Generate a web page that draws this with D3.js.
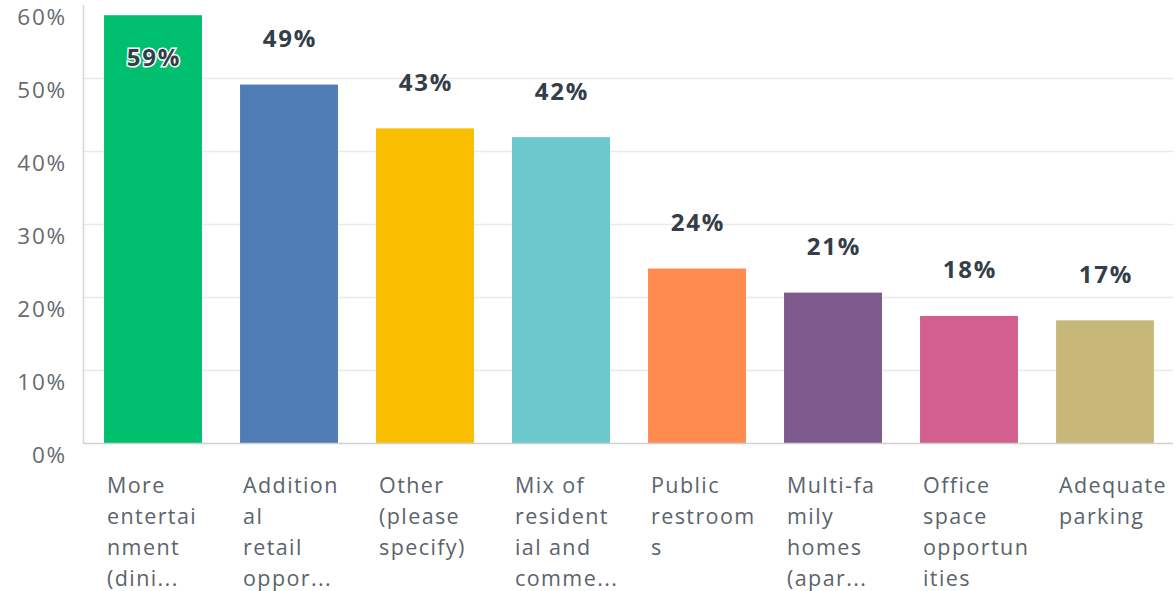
<!DOCTYPE html>
<html>
<head>
<meta charset="utf-8">
<script src="https://cdn.jsdelivr.net/npm/d3@7"></script>
<style>
  html, body { margin: 0; padding: 0; background: #fff; }
  svg { display: block; font-family: "Open Sans", "Noto Sans", sans-serif; }
</style>
</head>
<body>
<svg id="chart" width="1176" height="591"></svg>
<script>
const categories = [
  ["More", "entertai", "nment", "(dini..."],
  ["Addition", "al", "retail", "oppor..."],
  ["Other", "(please", "specify)"],
  ["Mix of", "resident", "ial and", "comme..."],
  ["Public", "restroom", "s"],
  ["Multi-fa", "mily", "homes", "(apar..."],
  ["Office", "space", "opportun", "ities"],
  ["Adequate", "parking"]
];
const values = [58.6, 49.1, 43.1, 41.9, 23.9, 20.6, 17.4, 16.8];
const valueLabels = ["59%", "49%", "43%", "42%", "24%", "21%", "18%", "17%"];
const colors = ["#00bf6f", "#507cb6", "#f9be00", "#6bc8cd", "#ff8b4f", "#7f5a8f", "#d25f90", "#c7b879"];
const yTicks = [0, 10, 20, 30, 40, 50, 60];

(function () {
const svg = d3.select("#chart");
const mLeft = 83, mRight = 1173, mTop = 5, mBottom = 443;

const x = d3.scaleBand()
  .domain(d3.range(values.length))
  .range([mLeft + 2, mRight])
  .paddingInner(0.28)
  .paddingOuter(0.14);

const y = d3.scaleLinear().domain([0, 60]).range([mBottom, mTop]);

// gridlines
svg.append("g").selectAll("line")
  .data(yTicks.filter(t => t > 0 && t < 60))
  .join("line")
  .attr("x1", mLeft).attr("x2", mRight)
  .attr("y1", d => y(d) + 0.5).attr("y2", d => y(d) + 0.5)
  .attr("stroke", "#e9e9e9").attr("stroke-width", 1.5);

// y tick labels
svg.append("g").selectAll("text")
  .data(yTicks)
  .join("text")
  .attr("x", 67)
  .attr("y", d => y(d) + 12)
  .attr("dy", "0.35em")
  .attr("text-anchor", "end")
  .attr("fill", "#666b70")
  .attr("font-size", 22.5)
  .attr("letter-spacing", 1.8)
  .text(d => d + "%");

// bars
svg.append("g").selectAll("rect")
  .data(values)
  .join("rect")
  .attr("x", (d, i) => x(i))
  .attr("width", x.bandwidth())
  .attr("y", d => y(d))
  .attr("height", d => y(0) - y(d))
  .attr("fill", (d, i) => colors[i]);

// axes lines
svg.append("line")
  .attr("x1", mLeft + 0.5).attr("x2", mLeft + 0.5)
  .attr("y1", mTop).attr("y2", mBottom + 1)
  .attr("stroke", "#d6d6d6").attr("stroke-width", 1.5);
svg.append("line")
  .attr("x1", mLeft).attr("x2", mRight)
  .attr("y1", mBottom + 0.5).attr("y2", mBottom + 0.5)
  .attr("stroke", "#d0d0d0").attr("stroke-width", 1.5);

// value labels
svg.append("g").selectAll("text")
  .data(values)
  .join("text")
  .attr("x", (d, i) => x(i) + x.bandwidth() / 2 + 1)
  .attr("y", (d, i) => i === 0 ? y(d) + 42 : y(d) - 46)
  .attr("dy", "0.35em")
  .attr("text-anchor", "middle")
  .attr("font-size", 24)
  .attr("font-weight", "bold")
  .attr("letter-spacing", 1.8)
  .attr("fill", "#333e48")
  .attr("stroke", (d, i) => i === 0 ? "#ffffff" : "none")
  .attr("stroke-width", 3)
  .attr("paint-order", "stroke")
  .text((d, i) => valueLabels[i]);

// category labels
const cat = svg.append("g").selectAll("text")
  .data(categories)
  .join("text")
  .attr("x", (d, i) => x(i) + 3)
  .attr("y", 485)
  .attr("fill", "#5a646c")
  .attr("font-size", 21.5)
  .attr("letter-spacing", 1.4);
cat.selectAll("tspan")
  .data(d => d)
  .join("tspan")
  .attr("x", function () { return d3.select(this.parentNode).attr("x"); })
  .attr("dy", (d, j) => j === 0 ? "0.35em" : 31)
  .text(d => d);
})();
</script>
</body>
</html>
